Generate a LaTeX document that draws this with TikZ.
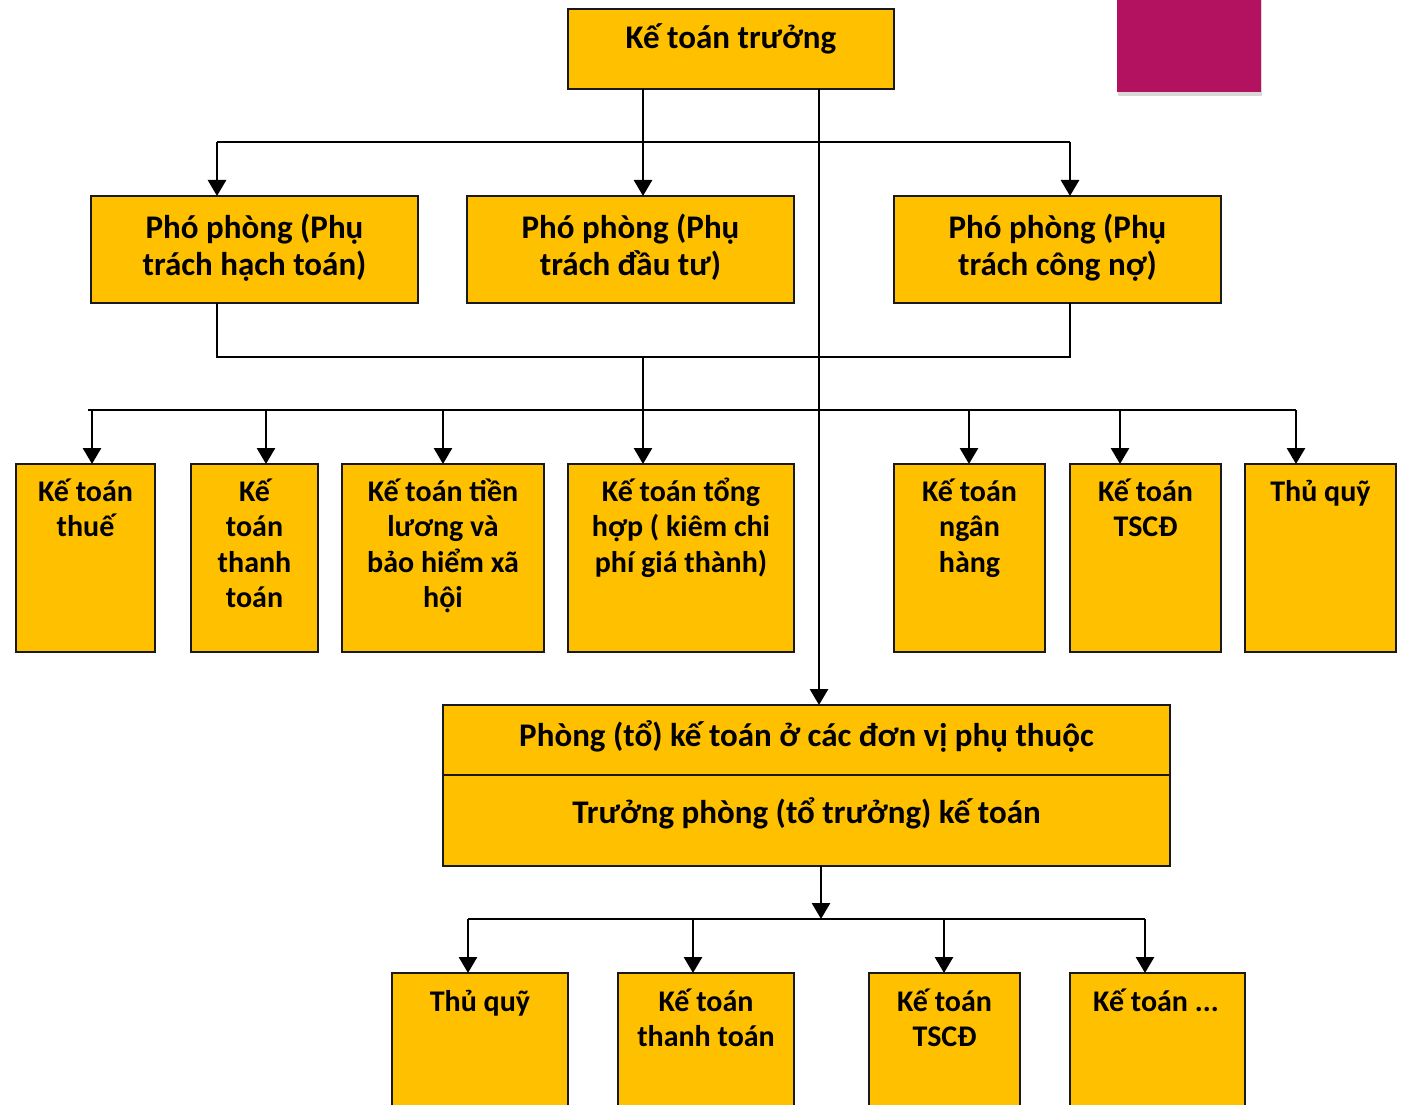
\documentclass[tikz,border=0pt]{standalone}
\usepackage{fontspec}
\setmainfont{Carlito}
\usetikzlibrary{arrows.meta,shadows}
\definecolor{boxyellow}{HTML}{FFC000}
\definecolor{magbox}{RGB}{179,18,97}
\begin{document}
\begin{tikzpicture}[x=1pt,y=-1pt,
 ybox/.style={draw=black!90, line width=2pt, fill=boxyellow, inner sep=0pt, outer sep=0pt},
 lbl/.style={font=\bfseries\fontsize{33}{37}\selectfont, align=center, inner sep=0pt, anchor=base},
 lbls/.style={font=\bfseries\fontsize{30}{35.6}\selectfont, align=center, inner sep=0pt, anchor=base},
 conn/.style={line width=2.8pt, draw=black},
 arr/.style={conn, -{Triangle[width=18pt,length=16pt]}}]
\clip (0,0) rectangle (1406,1105);
\fill[white] (0,0) rectangle (1406,1105);
% magenta block
\node[fill=magbox, minimum width=144pt, minimum height=102pt, inner sep=0pt,
  drop shadow={shadow xshift=1pt, shadow yshift=-4pt, opacity=0.3}] (mag) at (1189,41) {};
% top
\node[ybox, minimum width=326pt, minimum height=80pt] (top) at (731,49) {};
\node[lbl] (topt) at (731,49) {Kế toán trưởng};
% deputies (anchor = baseline of last line)
\node[ybox, minimum width=327pt, minimum height=107pt] (pp1) at (254.5,249.5) {};
\node[ybox, minimum width=327pt, minimum height=107pt] (pp2) at (630.5,249.5) {};
\node[ybox, minimum width=327pt, minimum height=107pt] (pp3) at (1057.5,249.5) {};
\node[lbl] (pp1t) at (254.5,275) {Phó phòng (Phụ\\trách hạch toán)};
\node[lbl] (pp2t) at (630.5,275) {Phó phòng (Phụ\\trách đầu tư)};
\node[lbl] (pp3t) at (1057.5,275) {Phó phòng (Phụ\\trách công nợ)};
% row 3
\node[ybox, minimum width=139pt, minimum height=188pt] (r1) at (85.5,558) {};
\node[ybox, minimum width=127pt, minimum height=188pt] (r2) at (254.5,558) {};
\node[ybox, minimum width=202pt, minimum height=188pt] (r3) at (443,558) {};
\node[ybox, minimum width=226pt, minimum height=188pt] (r4) at (681,558) {};
\node[ybox, minimum width=151pt, minimum height=188pt] (r5) at (969.5,558) {};
\node[ybox, minimum width=151pt, minimum height=188pt] (r6) at (1145.5,558) {};
\node[ybox, minimum width=151pt, minimum height=188pt] (r7) at (1320.5,558) {};
\node[lbls] (r1t) at (85.5,536.6) {Kế toán\\thuế};
\node[lbls] (r2t) at (254.5,607.8) {Kế\\toán\\thanh\\toán};
\node[lbls] (r3t) at (443,607.8) {Kế toán tiền\\lương và\\bảo hiểm xã\\hội};
\node[lbls] (r4t) at (681,572.2) {Kế toán tổng\\hợp ( kiêm chi\\phí giá thành)};
\node[lbls] (r5t) at (969.5,572.2) {Kế toán\\ngân\\hàng};
\node[lbls] (r6t) at (1145.5,536.6) {Kế toán\\TSCĐ};
\node[lbls] (r7t) at (1320.5,501) {Thủ quỹ};
% branch office
\node[ybox, minimum width=727pt, minimum height=161pt] (ph) at (806.5,785.5) {};
\coordinate (dv) at (0,775);
\draw[line width=2pt, draw=black!90] (ph.west |- dv) -- (ph.east |- dv);
\node[lbl] (pht1) at (806.5,746) {Phòng (tổ) kế toán ở các đơn vị phụ thuộc};
\node[lbl] (pht2) at (806.5,823) {Trưởng phòng (tổ trưởng) kế toán};
% bottom row
\node[ybox, minimum width=176pt, minimum height=160pt] (b1) at (480,1053) {};
\node[ybox, minimum width=176pt, minimum height=160pt] (b2) at (706,1053) {};
\node[ybox, minimum width=151pt, minimum height=160pt] (b3) at (944.5,1053) {};
\node[ybox, minimum width=175pt, minimum height=160pt] (b4) at (1157.5,1053) {};
\node[lbls] (b1t) at (480,1011) {Thủ quỹ};
\node[lbls] (b2t) at (706,1046.6) {Kế toán\\thanh toán};
\node[lbls] (b3t) at (944.5,1046.6) {Kế toán\\TSCĐ};
\node[lbls] (b4t) at (1156,1011) {Kế toán ...};
% connectors from top
\coordinate (ta) at (217,142);
\coordinate (tb) at (643,142);
\coordinate (tc) at (1070,142);
\coordinate (lv) at (819,0);
\draw[conn] (top.south -| tb) -- (tb);
\draw[conn] (ta) -- (tc);
\draw[arr] (ta) -- (ta |- pp1.north);
\draw[arr] (tb) -- (tb |- pp2.north);
\draw[arr] (tc) -- (tc |- pp3.north);
\draw[arr] (top.south -| lv) -- (ph.north -| lv);
% deputies to row 3
\coordinate (ma) at (217,357);
\coordinate (mb) at (643,357);
\coordinate (mc) at (1070,357);
\coordinate (bl) at (88,410);
\coordinate (br) at (1296,410);
\draw[conn] (pp1.south -| ma) -- (ma) -- (mc) -- (pp3.south -| mc);
\draw[conn] (mb) -- (mb |- bl);
\draw[conn] (bl) -- (br);
\foreach \xx/\nn in {92/r1, 266/r2, 443/r3, 643/r4, 969/r5, 1120/r6, 1296/r7}{
  \coordinate (a\nn) at (\xx,410);
  \draw[arr] (a\nn) -- (a\nn |- \nn.north);
}
% branch office to bottom row
\coordinate (pb) at (821,919);
\coordinate (ql) at (468,919);
\coordinate (qr) at (1145,919);
\draw[arr] (ph.south -| pb) -- (pb);
\draw[conn] (ql) -- (qr);
\foreach \xx/\nn in {468/b1, 693/b2, 944/b3, 1145/b4}{
  \coordinate (q\nn) at (\xx,919);
  \draw[arr] (q\nn) -- (q\nn |- \nn.north);
}
\end{tikzpicture}
\end{document}
